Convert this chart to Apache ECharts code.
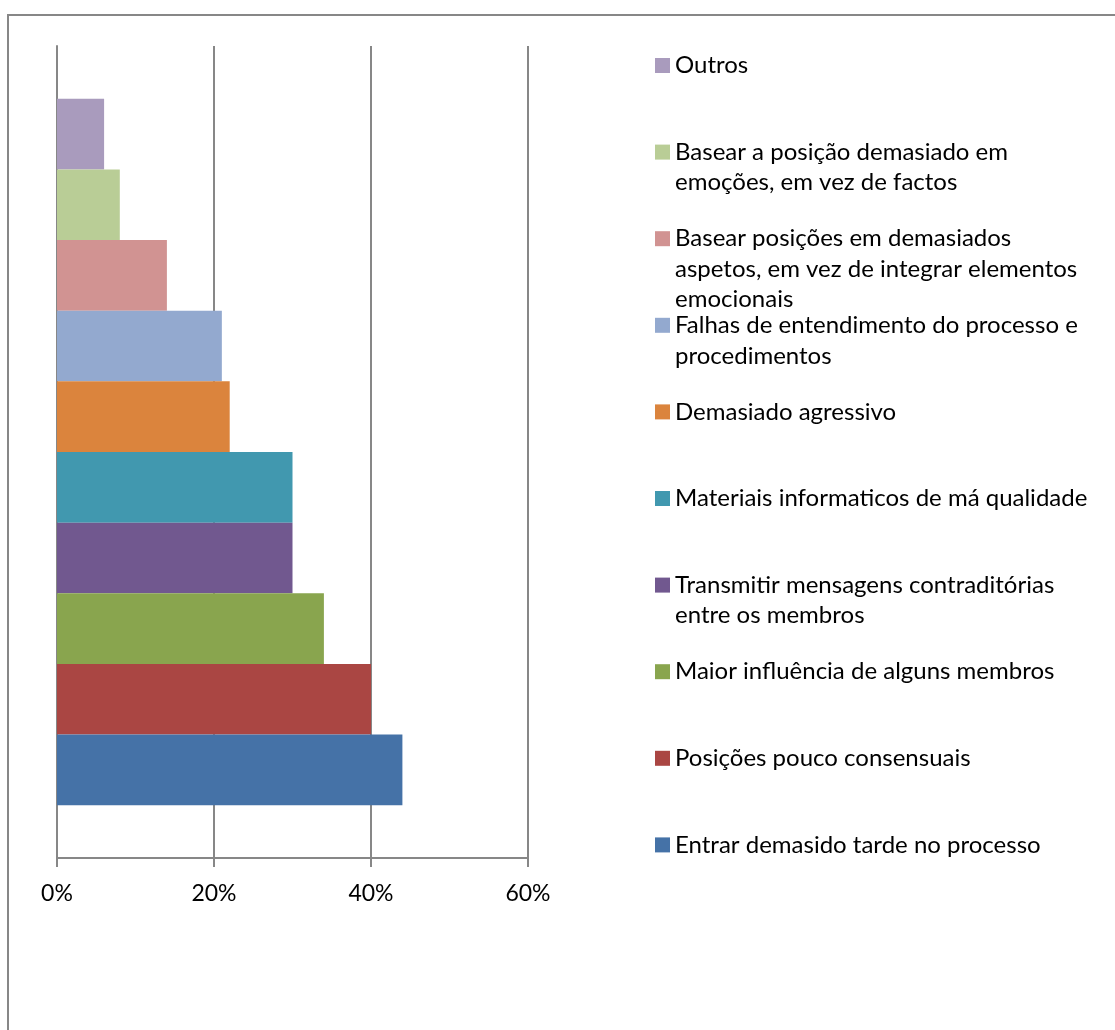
<!DOCTYPE html>
<html>
<head>
<meta charset="utf-8">
<script src="https://cdn.jsdelivr.net/npm/echarts@6/dist/echarts.min.js"></script>
<style>
  html, body { margin: 0; padding: 0; background: #fff; }
  #chart { width: 1115px; height: 1030px; }
</style>
</head>
<body>
<div id="chart"></div>
<script>
// Causes, listed top to bottom as they appear in the chart
const categories = [
  'Outros',
  'Basear a posição demasiado em\nemoções, em vez de factos',
  'Basear posições em demasiados\naspetos, em vez de integrar elementos\nemocionais',
  'Falhas de entendimento do processo e\nprocedimentos',
  'Demasiado agressivo',
  'Materiais informaticos de má qualidade',
  'Transmitir mensagens contraditórias\nentre os membros',
  'Maior influência de alguns membros',
  'Posições pouco consensuais',
  'Entrar demasido tarde no processo'
];
// Share of respondents (%)
const values = [6, 8, 14, 21, 22, 30, 30, 34, 40, 44];
const colors = ['#A99BBD', '#B9CD96', '#D19392', '#93A9CF', '#DB843D',
                '#4198AF', '#71588F', '#89A54E', '#AA4643', '#4572A7'];
const xTicks = [0, 20, 40, 60];

const FONT = 'Lato';
const LEGEND_FS = 24;
const AXIS_FS = 23;
const LH = 30.5;
const GRAY = '#878787';

const series = categories.map((name, i) => ({
  type: 'bar',
  name: name,
  data: [values[i]],
  barGap: 0,
  barCategoryGap: '13%',
  itemStyle: { color: colors[i] },
  emphasis: { disabled: true }
}));

// One legend block per cause, spaced evenly down the right side.
// Blank lines are prepended so the first text line sits level with the swatch.
const legends = categories.map((name, i) => {
  const n = name.split('\n').length;
  const cy = 65.5 + 86.6 * i;
  return {
    data: [name],
    orient: 'vertical',
    left: 655,
    top: cy - (2 * n - 1) * LH / 2,
    padding: 0,
    itemWidth: 15,
    itemHeight: 15,
    icon: 'rect',
    selectedMode: false,
    formatter: (txt) => ' \n'.repeat(n - 1) + txt,
    textStyle: {
      fontFamily: FONT, fontSize: LEGEND_FS, color: '#000', lineHeight: LH
    }
  };
});

const chart = echarts.init(document.getElementById('chart'));
chart.setOption({
  animation: false,
  backgroundColor: '#fff',
  color: colors,
  grid: { left: 57, top: 46, width: 471, height: 812, containLabel: false },
  xAxis: {
    type: 'value',
    min: xTicks[0],
    max: xTicks[xTicks.length - 1],
    interval: 20,
    axisLine: { show: true, lineStyle: { color: GRAY, width: 2 } },
    axisTick: { show: true, length: 9, lineStyle: { color: GRAY, width: 2 } },
    splitLine: { show: true, lineStyle: { color: GRAY, width: 2 } },
    axisLabel: {
      formatter: '{value}%', margin: 24,
      fontFamily: FONT, fontSize: AXIS_FS, color: '#000'
    }
  },
  yAxis: {
    type: 'category',
    data: [''],
    axisLine: { show: true, lineStyle: { color: GRAY, width: 2 } },
    axisTick: { show: false },
    axisLabel: { show: false }
  },
  legend: legends,
  graphic: [{
    type: 'rect',
    shape: { x: 8, y: 15, width: 1130, height: 1040 },
    style: { fill: null, stroke: GRAY, lineWidth: 2 },
    silent: true
  }],
  series: series
});
</script>
</body>
</html>
